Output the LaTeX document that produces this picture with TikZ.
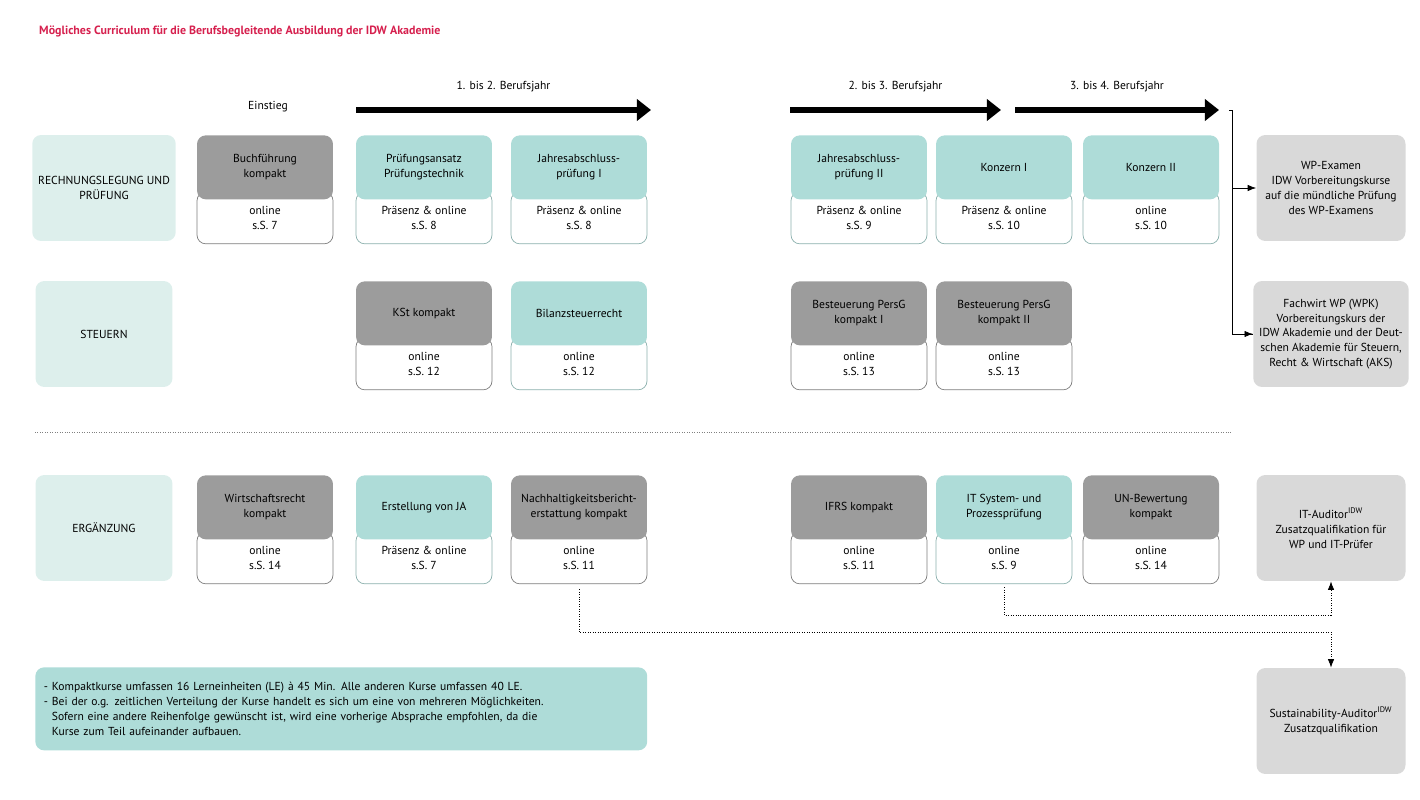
\documentclass[tikz,border=0pt]{standalone}
\usepackage{fontspec}
\setmainfont{PT Sans}
\usepackage{tikz}
\usetikzlibrary{arrows.meta, positioning, calc}

\definecolor{idwteal}{HTML}{AEDCD8}
\definecolor{idwlight}{HTML}{DDEFEC}
\definecolor{idwgray}{HTML}{9C9C9C}
\definecolor{idwpale}{HTML}{D9D9D9}
\definecolor{idwred}{HTML}{D6204E}

% course: name, center x, top y, fill, title, bottom text
\newcommand{\course}[6]{%
  \node[lowbox, draw=#4!80!black, anchor=north] (#1b) at (#2,#3+54) {#6};
  \node[topbox, fill=#4, anchor=north] (#1) at (#2,#3) {#5};
}

\begin{document}
\begin{tikzpicture}[
    x=0.02cm, y=-0.02cm,
    font=\fontsize{6.6}{8.4}\selectfont,
    >=Latex,
    topbox/.style={
      rounded corners=5pt,
      align=center,
      minimum width=2.72cm,
      minimum height=1.28cm,
      inner sep=1pt
    },
    lowbox/.style={
      draw,
      rounded corners=5pt,
      align=center,
      fill=white,
      minimum width=2.72cm,
      minimum height=1.04cm,
      text depth=0pt,
      inner sep=1pt,
      yshift=-0.05cm
    },
    catbox/.style={
      fill=idwlight,
      rounded corners=5pt,
      align=center,
      minimum width=2.74cm,
      minimum height=2.12cm
    },
    goalbox/.style={
      fill=idwpale,
      rounded corners=5pt,
      align=center,
      minimum width=2.98cm,
      minimum height=2.12cm
    },
    bigarrow/.style={-{Triangle[length=8pt,width=12pt]}, line width=3.5pt},
    dotline/.style={densely dotted, gray}
]
\useasboundingbox (0,0) rectangle (1420,800);

% title
\node[anchor=west, text=idwred, font=\fontsize{6.8}{8}\selectfont\bfseries] (title) at (33,31)
  {Mögliches Curriculum für die Berufsbegleitende Ausbildung der IDW Akademie};

% year arrows
\coordinate (a1s) at (356,110); \coordinate (a1e) at (651,110);
\coordinate (a2s) at (790,110); \coordinate (a2e) at (1001,110);
\coordinate (a3s) at (1015,110); \coordinate (a3e) at (1219,110);
\draw[bigarrow] (a1s) -- node[above=5pt]{1. bis 2. Berufsjahr} (a1e);
\draw[bigarrow] (a2s) -- node[above=5pt]{2. bis 3. Berufsjahr} (a2e);
\draw[bigarrow] (a3s) -- node[above=5pt]{3. bis 4. Berufsjahr} (a3e);
\node (einstieg) at (268,107) {Einstieg};

% categories
\node[catbox] (rl) at (104,188) {RECHNUNGSLEGUNG UND\\PRÜFUNG};
\node[catbox] (st) at (104,334) {STEUERN};
\node[catbox] (erg) at (104,528) {ERGÄNZUNG};

% row 1
\course{buch}{265}{135}{idwgray}{Buchführung\\kompakt}{online\\s.S. 7}
\course{pa}{424}{135}{idwteal}{Prüfungsansatz\\Prüfungstechnik}{Präsenz \& online\\s.S. 8}
\course{jaI}{579}{135}{idwteal}{Jahresabschluss-\\prüfung I}{Präsenz \& online\\s.S. 8}
\course{jaII}{859}{135}{idwteal}{Jahresabschluss-\\prüfung II}{Präsenz \& online\\s.S. 9}
\course{konI}{1004}{135}{idwteal}{Konzern I}{Präsenz \& online\\s.S. 10}
\course{konII}{1151}{135}{idwteal}{Konzern II}{online\\s.S. 10}

% row 2
\course{kst}{424}{281}{idwgray}{KSt kompakt}{online\\s.S. 12}
\course{bil}{579}{281}{idwteal}{Bilanzsteuerrecht}{online\\s.S. 12}
\course{persI}{859}{281}{idwgray}{Besteuerung PersG\\kompakt I}{online\\s.S. 13}
\course{persII}{1004}{281}{idwgray}{Besteuerung PersG\\kompakt II}{online\\s.S. 13}

% row 3
\course{wr}{265}{475}{idwgray}{Wirtschaftsrecht\\kompakt}{online\\s.S. 14}
\course{ja}{424}{475}{idwteal}{Erstellung von JA}{Präsenz \& online\\s.S. 7}
\course{nh}{579}{475}{idwgray}{Nachhaltigkeitsbericht-\\erstattung kompakt}{online\\s.S. 11}
\course{ifrs}{859}{475}{idwgray}{IFRS kompakt}{online\\s.S. 11}
\course{it}{1004}{475}{idwteal}{IT System- und\\Prozessprüfung}{online\\s.S. 9}
\course{un}{1151}{475}{idwgray}{UN-Bewertung\\kompakt}{online\\s.S. 14}

% goals
\node[goalbox] (wp) at (1331,188) {WP-Examen\\IDW Vorbereitungskurse\\auf die mündliche Prüfung\\des WP-Examens};
\node[goalbox] (fw) at (1331,334) {Fachwirt WP (WPK)\\Vorbereitungskurs der\\IDW Akademie und der Deut-\\schen Akademie für Steuern,\\Recht \& Wirtschaft (AKS)};
\node[goalbox] (ita) at (1331,528) {IT-Auditor\textsuperscript{IDW}\\Zusatzqualifikation für\\WP und IT-Prüfer};
\node[goalbox] (sa) at (1331,721) {Sustainability-Auditor\textsuperscript{IDW}\\Zusatzqualifikation};

% note
\node[fill=idwteal, rounded corners=5pt, minimum width=12.24cm, minimum height=1.66cm,
  align=left, anchor=north west, text width=11.9cm] (note) at (35,667)
  {- Kompaktkurse umfassen 16 Lerneinheiten (LE) à 45 Min. Alle anderen Kurse umfassen 40 LE.\\
   - Bei der o.g. zeitlichen Verteilung der Kurse handelt es sich um eine von mehreren Möglichkeiten.\\
   \hphantom{- }Sofern eine andere Reihenfolge gewünscht ist, wird eine vorherige Absprache empfohlen, da die\\
   \hphantom{- }Kurse zum Teil aufeinander aufbauen.};

% bracket to goals
\coordinate (br) at (1232,110);
\draw (a3e) ++(10,0) -- (br) -- (br |- fw.west) -- (fw.west);
\draw[->] (br |- wp.west) -- (wp.west);
\draw[->] (br |- fw.west) -- (fw.west);

% separator
\coordinate (sepl) at (35,432); \coordinate (sepr) at (1232,432);
\draw[dotline] (sepl) -- (sepr);

% dotted links
\draw[dotline, ->, black] ($(nhb.south)+(0,5)$) |- (1331,632) -- (sa.north);
\draw[dotline, ->, black] ($(itb.south)+(0,3)$) |- (1331,615) -- (ita.south);

\end{tikzpicture}
\end{document}
